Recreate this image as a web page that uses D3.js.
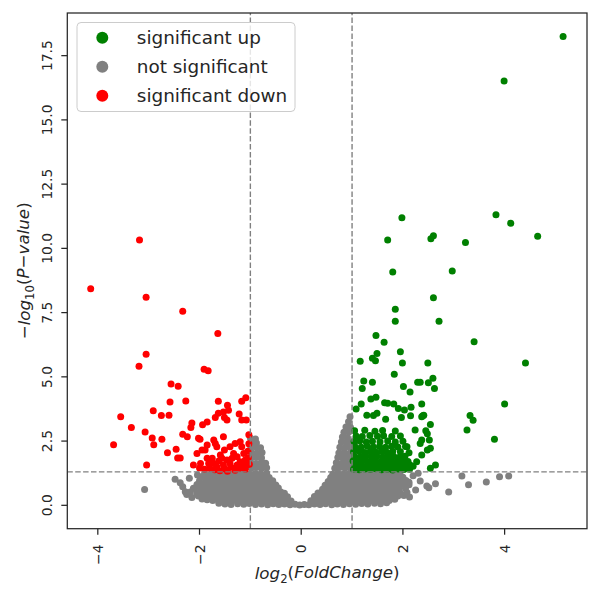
<!DOCTYPE html>
<html>
<head>
<meta charset="utf-8">
<script src="https://cdn.jsdelivr.net/npm/d3@7"></script>
<style>
  body { margin: 0; background: #fff; }
  text { font-family: "DejaVu Sans", sans-serif; fill: #262626; }
</style>
</head>
<body>
<div id="chart"></div>
<script>
// legend entries, in the order they are listed
const categories = ["significant up", "not significant", "significant down"]
const categoryColors = ["green", "grey", "red"]

const xTicks = [-4, -2, 0, 2, 4]
const yTicks = [0, 2.5, 5, 7.5, 10, 12.5, 15, 17.5]

// cut-offs drawn as dashed lines
const fcCutoffs = [-1, 1]
const pCutoff = 1.301

// [log2 fold change, -log10 p]
const sigUp = [
  [5.15,18.25],[3.99,16.51],[3.83,11.31],[4.12,10.98],[4.65,10.47],[3.23,10.23],[1.98,11.19],[1.70,10.33],
  [2.55,10.37],[2.60,10.49],[1.80,9.08],[2.97,9.12],[2.60,8.08],[1.85,7.63],[1.85,7.16],[2.71,7.16],
  [3.40,6.37],[4.41,5.54],[2.49,5.54],[2.34,4.79],[2.50,4.77],[2.59,4.95],[2.62,4.55],[4.00,3.94],
  [2.37,3.94],[2.41,3.51],[2.37,3.45],[3.32,3.50],[3.38,3.31],[3.26,2.93],[3.80,2.57],[2.54,3.15],
  [2.45,2.90],[2.48,2.79],[2.52,2.54],[2.37,2.54],[2.54,2.22],[2.48,2.15],[2.64,1.57],[2.54,1.44],
  [1.47,6.61],[1.63,6.35],[1.16,5.61],[1.40,5.72],[1.49,5.91],[1.46,5.63],[1.95,5.98],[1.99,5.54],
  [1.83,5.10],[1.23,4.84],[1.40,4.79],[1.20,4.55],[2.01,4.62],[2.14,4.41],[2.29,4.79],
  [1.37,4.14],[1.47,4.21],[1.18,3.94],[1.08,3.75],[1.29,3.51],[1.42,3.50],[1.49,3.58],[1.64,3.99],
  [1.70,3.97],[1.82,3.94],[1.91,3.77],[2.03,3.71],[2.16,3.82],[2.39,3.49],[1.66,3.35],[1.97,3.42],
  [2.15,3.49],[2.24,2.93],[2.34,2.41],[2.08,2.28],[2.37,1.96],[2.27,1.70],[2.14,1.57],
  [1.03,1.40],[1.14,1.38],[1.25,1.41],[1.36,1.39],[1.47,1.42],[1.58,1.38],[1.69,1.40],[1.80,1.37],[1.91,1.41],[2.02,1.39],[2.13,1.40],
  [1.06,1.55],[1.17,1.57],[1.28,1.53],[1.39,1.56],[1.50,1.54],[1.61,1.57],[1.72,1.55],[1.83,1.53],[1.94,1.56],[2.05,1.55],[2.20,1.52],
  [1.02,1.72],[1.12,1.70],[1.23,1.74],[1.34,1.71],[1.45,1.73],[1.56,1.70],[1.67,1.74],[1.78,1.72],[1.89,1.70],[2.00,1.73],[2.10,1.71],
  [1.05,1.90],[1.16,1.88],[1.27,1.92],[1.38,1.89],[1.49,1.91],[1.60,1.88],[1.71,1.92],[1.82,1.90],[1.93,1.87],[2.04,1.91],
  [1.03,2.08],[1.14,2.10],[1.25,2.06],[1.36,2.09],[1.47,2.07],[1.58,2.10],[1.69,2.06],[1.80,2.09],[1.95,2.08],[2.12,2.05],
  [1.06,2.28],[1.18,2.26],[1.30,2.30],[1.42,2.27],[1.54,2.29],[1.66,2.26],[1.78,2.30],[1.90,2.27],[2.05,2.29],
  [1.04,2.48],[1.15,2.50],[1.28,2.46],[1.40,2.49],[1.55,2.47],[1.70,2.50],[1.85,2.46],[2.00,2.49],
  [1.08,2.70],[1.20,2.68],[1.35,2.72],[1.50,2.69],[1.62,2.71],[1.78,2.68],[1.95,2.70],
  [1.05,2.90],[1.25,2.92],[1.45,2.88],[1.60,2.91],[1.85,2.89]
]

const sigDown = [
  [-3.18,10.33],[-4.14,8.43],[-3.05,8.10],[-2.33,7.55],[-1.64,6.69],[-3.05,5.88],[-3.19,5.41],[-1.91,5.30],
  [-1.83,5.24],[-2.56,4.72],[-2.42,4.63],[-2.58,4.02],[-2.27,4.06],[-1.63,4.05],[-1.45,3.89],[-1.17,4.05],
  [-1.09,4.19],[-3.55,3.45],[-2.91,3.68],[-2.75,3.50],[-2.60,3.51],[-3.34,3.03],[-3.07,2.85],[-2.93,2.62],
  [-2.90,2.36],[-2.74,2.57],[-3.69,2.36],[-3.04,1.57],[-2.63,2.05],[-2.46,2.18],[-2.43,1.84],[-2.38,1.84],
  [-2.33,2.77],[-2.24,2.67],[-2.17,3.03],[-2.15,3.20],[-2.02,2.61],[-1.99,2.57],[-1.94,3.14],[-1.85,3.24],
  [-1.69,3.42],[-1.63,3.58],[-1.53,3.63],[-1.43,3.70],[-1.51,3.42],[-1.46,3.32],[-1.22,3.55],[-1.17,3.32],
  [-1.08,3.32],[-1.03,2.75],
  [-2.05,2.02],[-1.95,2.15],[-1.89,2.15],[-1.85,1.83],[-1.72,2.54],[-1.69,2.41],[-1.66,2.28],[-1.59,1.96],
  [-1.53,2.67],[-1.51,2.15],[-1.46,1.76],[-1.40,2.28],[-1.33,2.02],[-1.30,2.41],[-1.26,1.89],[-1.20,2.47],
  [-1.17,2.28],[-1.13,2.02],[-1.10,1.76],[-1.72,1.63],[-1.66,1.50],[-1.53,1.57],[-1.40,1.63],[-1.26,1.57],
  [-1.13,1.50],[-2.12,1.57],[-1.98,1.63],[-1.82,1.63],[-1.75,1.83],[-1.56,1.83],[-1.36,1.83],[-1.20,1.70],
  [-1.07,1.57],[-1.90,1.40],[-1.70,1.38],[-1.50,1.42],[-1.30,1.36],[-1.10,1.40],[-2.00,1.45],[-1.60,1.35],
  [-1.20,1.45],[-1.45,1.33],[-1.02,1.60],[-1.05,2.10],[-1.03,2.40],[-1.80,1.45],[-1.38,1.48],[-1.04,1.85],
  [-1.15,1.62],[-1.62,1.72],[-1.85,2.35]
]

const notSig = [
  // bottom of the cloud
  [-1.62,0.08],[-1.50,0.05],[-1.38,0.03],[-1.25,0.06],[-1.13,0.04],[-1.02,0.07],[-0.90,0.03],[-0.78,0.05],
  [-0.66,0.02],[-0.55,0.06],[-0.44,0.03],[-0.33,0.05],[-0.22,0.02],[-0.12,0.04],[-0.03,0.01],[0.06,0.03],
  [0.15,0.02],[0.26,0.05],[0.37,0.03],[0.48,0.06],[0.60,0.02],[0.71,0.05],[0.83,0.03],[0.95,0.06],
  [1.07,0.04],[1.19,0.07],[1.31,0.05],[1.44,0.08],[1.56,0.06],[1.68,0.10],
  [-1.85,0.22],[-1.74,0.19],[-1.63,0.21],[-1.52,0.18],[-1.41,0.22],[-1.30,0.20],[-1.19,0.17],[-1.08,0.21],
  [-0.97,0.19],[-0.86,0.22],[-0.75,0.18],[-0.64,0.21],[-0.53,0.19],[-0.42,0.22],[-0.31,0.18],[-0.20,0.17],
  [0.19,0.18],[0.30,0.21],[0.41,0.19],[0.52,0.22],[0.63,0.18],[0.74,0.21],[0.85,0.19],[0.96,0.22],
  [1.07,0.18],[1.18,0.21],[1.29,0.19],[1.40,0.22],[1.51,0.18],[1.62,0.21],[1.73,0.19],[1.84,0.24],
  [-2.02,0.36],[-1.90,0.34],[-1.79,0.37],[-1.68,0.33],[-1.57,0.36],[-1.46,0.34],[-1.35,0.37],[-1.24,0.35],
  [-1.13,0.33],[-1.02,0.36],[-0.91,0.34],[-0.80,0.37],[-0.69,0.33],[-0.58,0.36],[-0.47,0.34],[-0.36,0.37],
  [-0.27,0.33],[0.26,0.34],[0.36,0.37],[0.47,0.33],[0.58,0.36],[0.69,0.34],[0.80,0.37],[0.91,0.33],
  [1.02,0.36],[1.13,0.34],[1.24,0.37],[1.35,0.33],[1.46,0.36],[1.57,0.34],[1.68,0.37],[1.79,0.33],
  [1.90,0.36],[2.02,0.38],
  [-2.18,0.52],[-2.05,0.49],[-1.94,0.51],[-1.83,0.48],[-1.72,0.52],[-1.61,0.50],[-1.50,0.47],[-1.39,0.51],
  [-1.28,0.49],[-1.17,0.52],[-1.06,0.48],[-0.95,0.51],[-0.84,0.49],[-0.73,0.52],[-0.62,0.48],[-0.51,0.51],
  [-0.40,0.52],[-0.33,0.47],[0.33,0.48],[0.41,0.52],[0.52,0.49],[0.63,0.51],[0.74,0.48],[0.85,0.52],
  [0.96,0.50],[1.07,0.47],[1.18,0.51],[1.29,0.49],[1.40,0.52],[1.51,0.48],[1.62,0.51],[1.73,0.49],
  [1.84,0.52],[1.95,0.48],[2.08,0.50],
  [-2.10,0.66],[-1.98,0.64],[-1.87,0.67],[-1.76,0.63],[-1.65,0.66],[-1.54,0.64],[-1.43,0.67],[-1.32,0.65],
  [-1.21,0.63],[-1.10,0.66],[-0.99,0.64],[-0.88,0.67],[-0.77,0.63],[-0.66,0.66],[-0.55,0.64],[-0.45,0.67],
  [0.42,0.63],[0.50,0.67],[0.61,0.64],[0.72,0.66],[0.83,0.63],[0.94,0.67],[1.05,0.65],[1.16,0.63],
  [1.27,0.66],[1.38,0.64],[1.49,0.67],[1.60,0.63],[1.71,0.66],[1.82,0.64],[1.93,0.67],[2.05,0.65],
  [-2.05,0.81],[-1.93,0.79],[-1.82,0.82],[-1.71,0.78],[-1.60,0.81],[-1.49,0.79],[-1.38,0.82],[-1.27,0.80],
  [-1.16,0.78],[-1.05,0.81],[-0.94,0.79],[-0.83,0.82],[-0.72,0.78],[-0.61,0.81],[-0.50,0.79],
  [0.47,0.78],[0.56,0.82],[0.67,0.79],[0.78,0.81],[0.89,0.78],[1.00,0.82],[1.11,0.80],[1.22,0.78],
  [1.33,0.81],[1.44,0.79],[1.55,0.82],[1.66,0.78],[1.77,0.81],[1.88,0.79],[2.00,0.82],[2.12,0.80],
  [-2.00,0.96],[-1.88,0.94],[-1.77,0.97],[-1.66,0.93],[-1.55,0.96],[-1.44,0.94],[-1.33,0.97],[-1.22,0.95],
  [-1.11,0.93],[-1.00,0.96],[-0.89,0.94],[-0.78,0.97],[-0.67,0.93],[-0.56,0.96],
  [0.53,0.93],[0.62,0.97],[0.73,0.94],[0.84,0.96],[0.95,0.93],[1.06,0.97],[1.17,0.95],[1.28,0.93],
  [1.39,0.96],[1.50,0.94],[1.61,0.97],[1.72,0.93],[1.83,0.96],[1.94,0.94],[2.06,0.97],
  [-1.95,1.11],[-1.84,1.09],[-1.73,1.12],[-1.62,1.08],[-1.51,1.11],[-1.40,1.09],[-1.29,1.12],[-1.18,1.10],
  [-1.07,1.08],[-0.96,1.11],[-0.85,1.09],[-0.74,1.12],[-0.63,1.08],
  [0.58,1.08],[0.68,1.12],[0.79,1.09],[0.90,1.11],[1.01,1.08],[1.12,1.12],[1.23,1.10],[1.34,1.08],
  [1.45,1.11],[1.56,1.09],[1.67,1.12],[1.78,1.08],[1.90,1.11],[2.00,1.09],
  [-1.90,1.24],[-1.78,1.22],[-1.67,1.25],[-1.56,1.21],[-1.45,1.24],[-1.34,1.22],[-1.23,1.25],[-1.12,1.23],
  [-1.01,1.21],[-0.90,1.24],[-0.79,1.22],[-0.68,1.25],
  [0.62,1.21],[0.72,1.25],[0.83,1.22],[0.94,1.24],[1.05,1.21],[1.16,1.25],[1.27,1.23],[1.38,1.21],
  [1.49,1.24],[1.60,1.22],[1.71,1.25],[1.83,1.21],[1.94,1.24],
  // the two arms above the p cut-off
  [-0.98,1.45],[-0.88,1.47],[-0.78,1.44],[-0.68,1.46],[0.66,1.44],[0.76,1.47],[0.86,1.45],[0.97,1.46],
  [-0.99,1.65],[-0.89,1.63],[-0.79,1.66],[-0.70,1.64],[0.69,1.66],[0.79,1.63],[0.89,1.65],[0.98,1.64],
  [-0.98,1.85],[-0.88,1.87],[-0.78,1.84],[0.72,1.86],[0.82,1.84],[0.92,1.87],
  [-0.97,2.05],[-0.87,2.03],[-0.77,2.06],[0.74,2.04],[0.84,2.06],[0.95,2.03],
  [-0.99,2.25],[-0.89,2.27],[-0.80,2.24],[0.76,2.26],[0.86,2.24],[0.96,2.27],
  [-0.98,2.45],[-0.88,2.43],[0.79,2.46],[0.89,2.44],[0.98,2.47],
  [-1.00,2.62],[-0.90,2.58],[0.81,2.66],[0.91,2.64],
  [0.84,2.84],[0.94,2.86],[0.88,3.05],[0.97,3.03],[0.93,3.25],[0.96,3.45],
  // stragglers at the edges
  [-3.08,0.62],[-2.48,1.01],[-2.33,0.72],[-2.26,0.49],[-2.04,1.18],[-2.25,0.42],[-2.05,0.42],[-2.12,0.66],
  [-2.28,0.53],[-2.38,0.88],[-2.20,1.05],[-2.15,0.30],[-1.95,0.25],
  [2.13,0.32],[2.34,0.95],[2.47,0.75],[2.64,0.84],[2.51,0.68],[2.90,0.52],[3.16,1.14],[3.29,0.80],
  [3.64,0.91],[3.90,1.11],[4.08,1.14],[2.20,1.15],[2.25,0.60],[2.12,0.90],[2.30,1.25]
]

const width = 600
const height = 600
const margin = {left: 67.3, right: 13, top: 13, bottom: 71.3}

const x = d3.scaleLinear()
    .domain([-4.6, 5.62])
    .range([margin.left, width - margin.right])

const y = d3.scaleLinear()
    .domain([-0.91, 19.16])
    .range([height - margin.bottom, margin.top])

const ink = "#262626"

const svg = d3.select("#chart").append("svg")
    .attr("width", width)
    .attr("height", height)
    .style("background", "#fff")

const clip = svg.append("defs").append("clipPath").attr("id", "plot-clip")
clip.append("rect")
    .attr("x", x.range()[0]).attr("y", y.range()[1])
    .attr("width", x.range()[1] - x.range()[0])
    .attr("height", y.range()[0] - y.range()[1])

const plot = svg.append("g").attr("clip-path", "url(#plot-clip)")

// points: grey first so the coloured ones sit on top
const groups = [
  {data: notSig, color: categoryColors[1]},
  {data: sigUp, color: categoryColors[0]},
  {data: sigDown, color: categoryColors[2]},
]
groups.forEach(g => {
  plot.append("g")
    .attr("fill", g.color)
    .selectAll("circle")
    .data(g.data)
    .join("circle")
    .attr("cx", d => x(d[0]))
    .attr("cy", d => y(d[1]))
    .attr("r", 3.5)
})

// cut-off lines
plot.selectAll("line.vcut")
    .data(fcCutoffs)
    .join("line")
    .attr("class", "vcut")
    .attr("x1", d => x(d)).attr("x2", d => x(d))
    .attr("y1", y.range()[0]).attr("y2", y.range()[1])
    .attr("stroke", "grey")
    .attr("stroke-width", 1.4)
    .attr("stroke-dasharray", "5.5,2.4")

plot.append("line")
    .attr("x1", x.range()[0]).attr("x2", x.range()[1])
    .attr("y1", y(pCutoff)).attr("y2", y(pCutoff))
    .attr("stroke", "grey")
    .attr("stroke-width", 1.4)
    .attr("stroke-dasharray", "5.5,2.4")

// frame
svg.append("rect")
    .attr("x", x.range()[0]).attr("y", y.range()[1])
    .attr("width", x.range()[1] - x.range()[0])
    .attr("height", y.range()[0] - y.range()[1])
    .attr("fill", "none")
    .attr("stroke", ink)
    .attr("stroke-width", 1.25)

// x ticks, labels turned on their side
const xFmt = d3.format("")
const xAxis = svg.append("g")
xAxis.selectAll("line")
    .data(xTicks)
    .join("line")
    .attr("x1", d => x(d)).attr("x2", d => x(d))
    .attr("y1", y.range()[0]).attr("y2", y.range()[0] + 6)
    .attr("stroke", ink)
    .attr("stroke-width", 1.25)
xAxis.selectAll("text")
    .data(xTicks)
    .join("text")
    .attr("transform", d => `translate(${x(d)},544.4) rotate(-90)`)
    .attr("text-anchor", "end")
    .attr("dy", "0.36em")
    .style("font-size", "13.9px")
    .text(d => xFmt(d))

const yFmt = d3.format(".1f")
const yAxis = svg.append("g")
yAxis.selectAll("line")
    .data(yTicks)
    .join("line")
    .attr("x1", x.range()[0] - 6).attr("x2", x.range()[0])
    .attr("y1", d => y(d)).attr("y2", d => y(d))
    .attr("stroke", ink)
    .attr("stroke-width", 1.25)
yAxis.selectAll("text")
    .data(yTicks)
    .join("text")
    .attr("transform", d => `translate(51.7,${y(d)}) rotate(-90)`)
    .attr("text-anchor", "middle")
    .style("font-size", "13.9px")
    .text(d => yFmt(d))

// axis titles, matplotlib mathtext look
const xTitle = svg.append("text")
    .attr("x", (x.range()[0] + x.range()[1]) / 2)
    .attr("y", 579)
    .attr("text-anchor", "middle")
    .style("font-size", "16.7px")
xTitle.append("tspan").style("font-style", "italic").text("log")
xTitle.append("tspan").attr("dy", "0.3em").style("font-size", "11.7px").text("2")
xTitle.append("tspan").attr("dy", "-0.3em").text("(")
xTitle.append("tspan").style("font-style", "italic").text("FoldChange")
xTitle.append("tspan").text(")")

const yMid = (y.range()[0] + y.range()[1]) / 2
const yTitle = svg.append("text")
    .attr("transform", `translate(30,${yMid}) rotate(-90)`)
    .attr("text-anchor", "middle")
    .style("font-size", "16.7px")
yTitle.append("tspan").text("\u2212")
yTitle.append("tspan").style("font-style", "italic").text("log")
yTitle.append("tspan").attr("dy", "0.3em").style("font-size", "11.7px").text("10")
yTitle.append("tspan").attr("dy", "-0.3em").text("(")
yTitle.append("tspan").style("font-style", "italic").text("P")
yTitle.append("tspan").text("\u2212")
yTitle.append("tspan").style("font-style", "italic").text("value")
yTitle.append("tspan").text(")")

// legend
const legend = svg.append("g")
legend.append("rect")
    .attr("x", 77).attr("y", 22.5)
    .attr("width", 218).attr("height", 89)
    .attr("rx", 4)
    .attr("fill", "#fff").attr("fill-opacity", 0.8)
    .attr("stroke", "#cccccc")
    .attr("stroke-width", 1)

const item = legend.selectAll("g.item")
    .data(categories)
    .join("g")
    .attr("class", "item")
    .attr("transform", (d, i) => `translate(102.3,${37.8 + i * 29})`)
item.append("circle")
    .attr("r", 6)
    .attr("fill", (d, i) => categoryColors[i])
item.append("text")
    .attr("x", 34.5)
    .attr("dy", "0.36em")
    .style("font-size", "18.4px")
    .text(d => d)
</script>
